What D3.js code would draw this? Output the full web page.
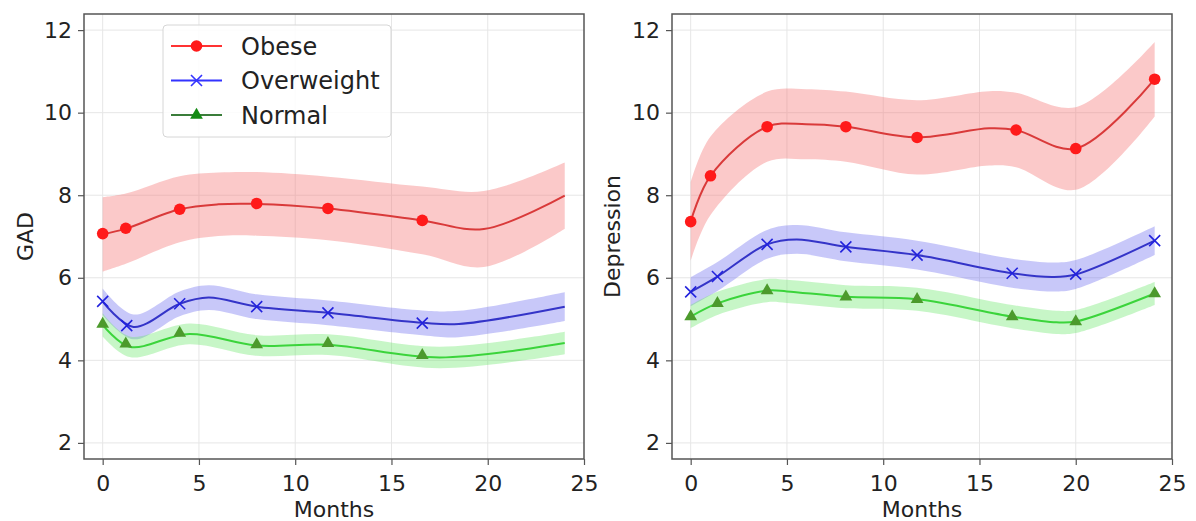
<!DOCTYPE html>
<html lang="en">
<head>
<meta charset="utf-8">
<title>GAD and Depression by BMI group</title>
<script src="https://d3js.org/d3.v7.min.js"></script>
<style>
  body { margin: 0; background: #fff; }
  text { font-family: "DejaVu Sans", sans-serif; fill: #222; }
  .tick line { stroke: #555; }
</style>
</head>
<body>
<script>
// ---- data ----
const groups = ["Obese", "Overweight", "Normal"];
const xTicks = [0, 5, 10, 15, 20, 25];
const yTicks = [2, 4, 6, 8, 10, 12];

// GAD panel: observed points
const gadObeseMonths = [0, 1.2, 4, 8, 11.7, 16.6];
const gadObese = [7.07, 7.20, 7.66, 7.80, 7.68, 7.39];
const gadOverMonths = [0, 1.25, 4, 8, 11.7, 16.6];
const gadOver = [5.43, 4.84, 5.37, 5.30, 5.15, 4.90];
const gadNormMonths = [0, 1.2, 4, 8, 11.7, 16.6];
const gadNorm = [4.88, 4.40, 4.66, 4.38, 4.41, 4.12];

// GAD panel: fitted curve + half width of the shaded band
const gadObeseFitX = [0, 1.2, 4, 6, 8, 11.7, 16.6, 19.8, 24];
const gadObeseFit = [7.05, 7.19, 7.66, 7.78, 7.79, 7.68, 7.39, 7.18, 7.99];
const gadObeseBand = [0.9, 0.85, 0.8, 0.77, 0.77, 0.77, 0.82, 0.92, 0.8];
const gadOverFitX = [0, 1.6, 4, 5.5, 8, 11.7, 16.6, 18.5, 24];
const gadOverFit = [5.42, 4.81, 5.37, 5.52, 5.30, 5.15, 4.91, 4.88, 5.30];
const gadOverBand = [0.32, 0.3, 0.3, 0.3, 0.3, 0.3, 0.3, 0.32, 0.35];
const gadNormFitX = [0, 1.4, 4.5, 8, 11.7, 17.5, 24];
const gadNormFit = [4.86, 4.33, 4.64, 4.36, 4.38, 4.07, 4.42];
const gadNormBand = [0.28, 0.25, 0.25, 0.25, 0.25, 0.26, 0.27];

// Depression panel: observed points
const depObeseMonths = [0, 1.03, 3.97, 8.06, 11.76, 16.9, 20, 24.1];
const depObese = [7.36, 8.47, 9.66, 9.66, 9.40, 9.58, 9.13, 10.81];
const depOverMonths = [0, 1.39, 3.97, 8.06, 11.76, 16.7, 20, 24.1];
const depOver = [5.66, 6.03, 6.81, 6.75, 6.55, 6.11, 6.09, 6.90];
const depNormMonths = [0, 1.39, 3.97, 8.06, 11.76, 16.7, 20, 24.1];
const depNorm = [5.06, 5.38, 5.69, 5.54, 5.48, 5.06, 4.94, 5.62];

// Depression panel: fitted curve + band half width
const depObeseFitX = [0, 1.03, 3.97, 6, 8.06, 11.76, 15.5, 16.9, 20, 24.1];
const depObeseFit = [7.36, 8.47, 9.66, 9.72, 9.66, 9.40, 9.62, 9.58, 9.13, 10.81];
const depObeseBand = [0.95, 0.95, 0.85, 0.85, 0.85, 0.9, 0.9, 0.9, 1.0, 0.9];
const depOverFitX = [0, 1.39, 3.97, 5.5, 8.06, 11.76, 16.7, 18.8, 20, 24.1];
const depOverFit = [5.66, 6.03, 6.81, 6.93, 6.75, 6.55, 6.11, 6.02, 6.08, 6.90];
const depOverBand = [0.35, 0.35, 0.35, 0.35, 0.35, 0.35, 0.35, 0.35, 0.35, 0.35];
const depNormFitX = [0, 1.39, 3.97, 5, 8.06, 11.76, 16.7, 19, 20, 24.1];
const depNormFit = [5.06, 5.38, 5.69, 5.67, 5.54, 5.48, 5.06, 4.92, 4.94, 5.62];
const depNormBand = [0.28, 0.28, 0.28, 0.28, 0.28, 0.28, 0.28, 0.28, 0.28, 0.28];

// ---- styles ----
const lineColor = { Obese: "#d93a3a", Overweight: "#3434c8", Normal: "#3bd43b" };
const markColor = { Obese: "#ff1a1a", Overweight: "#2222dd", Normal: "#4c9a2c" };
const bandColor = { Obese: "rgba(245,120,120,0.4)", Overweight: "rgba(110,110,240,0.38)", Normal: "rgba(100,230,100,0.36)" };
const legLine = { Obese: "#ff3333", Overweight: "#3333ff", Normal: "#3a7d3a" };
const legMark = { Obese: "#ff1a1a", Overweight: "#3333ff", Normal: "#138a13" };

const width = 1196, height = 521;
const svg = d3.select("body").append("svg")
    .attr("width", width)
    .attr("height", height);

function zip(xs, ys, hs) {
    return xs.map((m, i) => ({ m: m, v: ys[i], h: hs ? hs[i] : 0 }));
}

const panels = [
    {
        left: 84, label: "GAD", labelX: 33,
        series: {
            Obese: { pts: zip(gadObeseMonths, gadObese), fit: zip(gadObeseFitX, gadObeseFit, gadObeseBand) },
            Overweight: { pts: zip(gadOverMonths, gadOver), fit: zip(gadOverFitX, gadOverFit, gadOverBand) },
            Normal: { pts: zip(gadNormMonths, gadNorm), fit: zip(gadNormFitX, gadNormFit, gadNormBand) }
        },
        legend: true
    },
    {
        left: 672, label: "Depression", labelX: 620,
        series: {
            Obese: { pts: zip(depObeseMonths, depObese), fit: zip(depObeseFitX, depObeseFit, depObeseBand) },
            Overweight: { pts: zip(depOverMonths, depOver), fit: zip(depOverFitX, depOverFit, depOverBand) },
            Normal: { pts: zip(depNormMonths, depNorm), fit: zip(depNormFitX, depNormFit, depNormBand) }
        },
        legend: false
    }
];

const plotTop = 14, plotH = 445, plotW = 500;

// draw one marker shape at (0,0)
function drawMarker(g, name, color) {
    if (name === "Obese") {
        g.append("circle").attr("r", 5.8).attr("fill", color);
    } else if (name === "Overweight") {
        g.append("path").attr("d", "M-5.5,-5.5L5.5,5.5M-5.5,5.5L5.5,-5.5")
            .attr("stroke", color).attr("stroke-width", 1.6).attr("fill", "none");
    } else {
        g.append("path").attr("d", d3.symbol().type(d3.symbolTriangle).size(70)())
            .attr("fill", color);
    }
}

panels.forEach(function(p) {
    const x = d3.scaleLinear().domain([-0.97, 25]).range([p.left, p.left + plotW]);
    const y = d3.scaleLinear().domain([1.61, 12.39]).range([plotTop + plotH, plotTop]);

    // grid
    svg.append("g").selectAll("line")
        .data(xTicks.filter(d => d < 25))
        .join("line")
        .attr("x1", d => x(d)).attr("x2", d => x(d))
        .attr("y1", plotTop).attr("y2", plotTop + plotH)
        .attr("stroke", "#e6e6e6").attr("stroke-width", 1);
    svg.append("g").selectAll("line")
        .data(yTicks)
        .join("line")
        .attr("x1", p.left).attr("x2", p.left + plotW)
        .attr("y1", d => y(d)).attr("y2", d => y(d))
        .attr("stroke", "#e6e6e6").attr("stroke-width", 1);

    const curve = d3.curveCatmullRom.alpha(0.5);
    const area = d3.area().curve(curve)
        .x(d => x(d.m)).y0(d => y(d.v - d.h)).y1(d => y(d.v + d.h));
    const line = d3.line().curve(curve).x(d => x(d.m)).y(d => y(d.v));

    // bands first
    groups.forEach(function(name) {
        svg.append("path").datum(p.series[name].fit)
            .attr("d", area).attr("fill", bandColor[name]);
    });
    // lines and markers
    groups.forEach(function(name) {
        svg.append("path").datum(p.series[name].fit)
            .attr("d", line).attr("fill", "none")
            .attr("stroke", lineColor[name]).attr("stroke-width", 2);
        svg.append("g").selectAll("g")
            .data(p.series[name].pts)
            .join("g")
            .attr("transform", d => `translate(${x(d.m)},${y(d.v)})`)
            .each(function() { drawMarker(d3.select(this), name, markColor[name]); });
    });

    // frame
    svg.append("rect")
        .attr("x", p.left).attr("y", plotTop)
        .attr("width", plotW).attr("height", plotH)
        .attr("fill", "none").attr("stroke", "#555").attr("stroke-width", 1.5);

    // axes
    const xa = svg.append("g")
        .attr("transform", `translate(0,${plotTop + plotH})`)
        .call(d3.axisBottom(x).tickValues(xTicks).tickSize(6).tickPadding(10));
    const ya = svg.append("g")
        .attr("transform", `translate(${p.left},0)`)
        .call(d3.axisLeft(y).tickValues(yTicks).tickSize(6).tickPadding(6));
    [xa, ya].forEach(function(a) {
        a.select(".domain").remove();
        a.selectAll("text").attr("font-size", 22).attr("font-family", "DejaVu Sans").attr("fill", "#222");
        a.selectAll("line").attr("stroke", "#555").attr("stroke-width", 1.2);
    });

    // axis titles
    svg.append("text")
        .attr("x", p.left + plotW / 2).attr("y", 517)
        .attr("text-anchor", "middle")
        .attr("font-size", 22)
        .text("Months");
    svg.append("text")
        .attr("transform", `translate(${p.labelX},${plotTop + plotH / 2}) rotate(-90)`)
        .attr("text-anchor", "middle")
        .attr("font-size", 22)
        .text(p.label);

    // legend
    if (p.legend) {
        const lg = svg.append("g");
        lg.append("rect")
            .attr("x", 163).attr("y", 25).attr("width", 228).attr("height", 112)
            .attr("rx", 4)
            .attr("fill", "#fff").attr("fill-opacity", 0.85)
            .attr("stroke", "#d6d6d6");
        const item = lg.selectAll("g")
            .data(groups)
            .join("g")
            .attr("transform", (d, i) => `translate(0,${46 + i * 34.5})`);
        item.append("line")
            .attr("x1", 171).attr("x2", 222)
            .attr("stroke", d => legLine[d]).attr("stroke-width", 2);
        item.append("g")
            .attr("transform", "translate(196.5,0)")
            .each(function(d) { drawMarker(d3.select(this), d, legMark[d]); });
        item.append("text")
            .attr("x", 241).attr("y", 8.5)
            .attr("font-size", 24)
            .text(d => d);
    }
});
</script>
</body>
</html>
